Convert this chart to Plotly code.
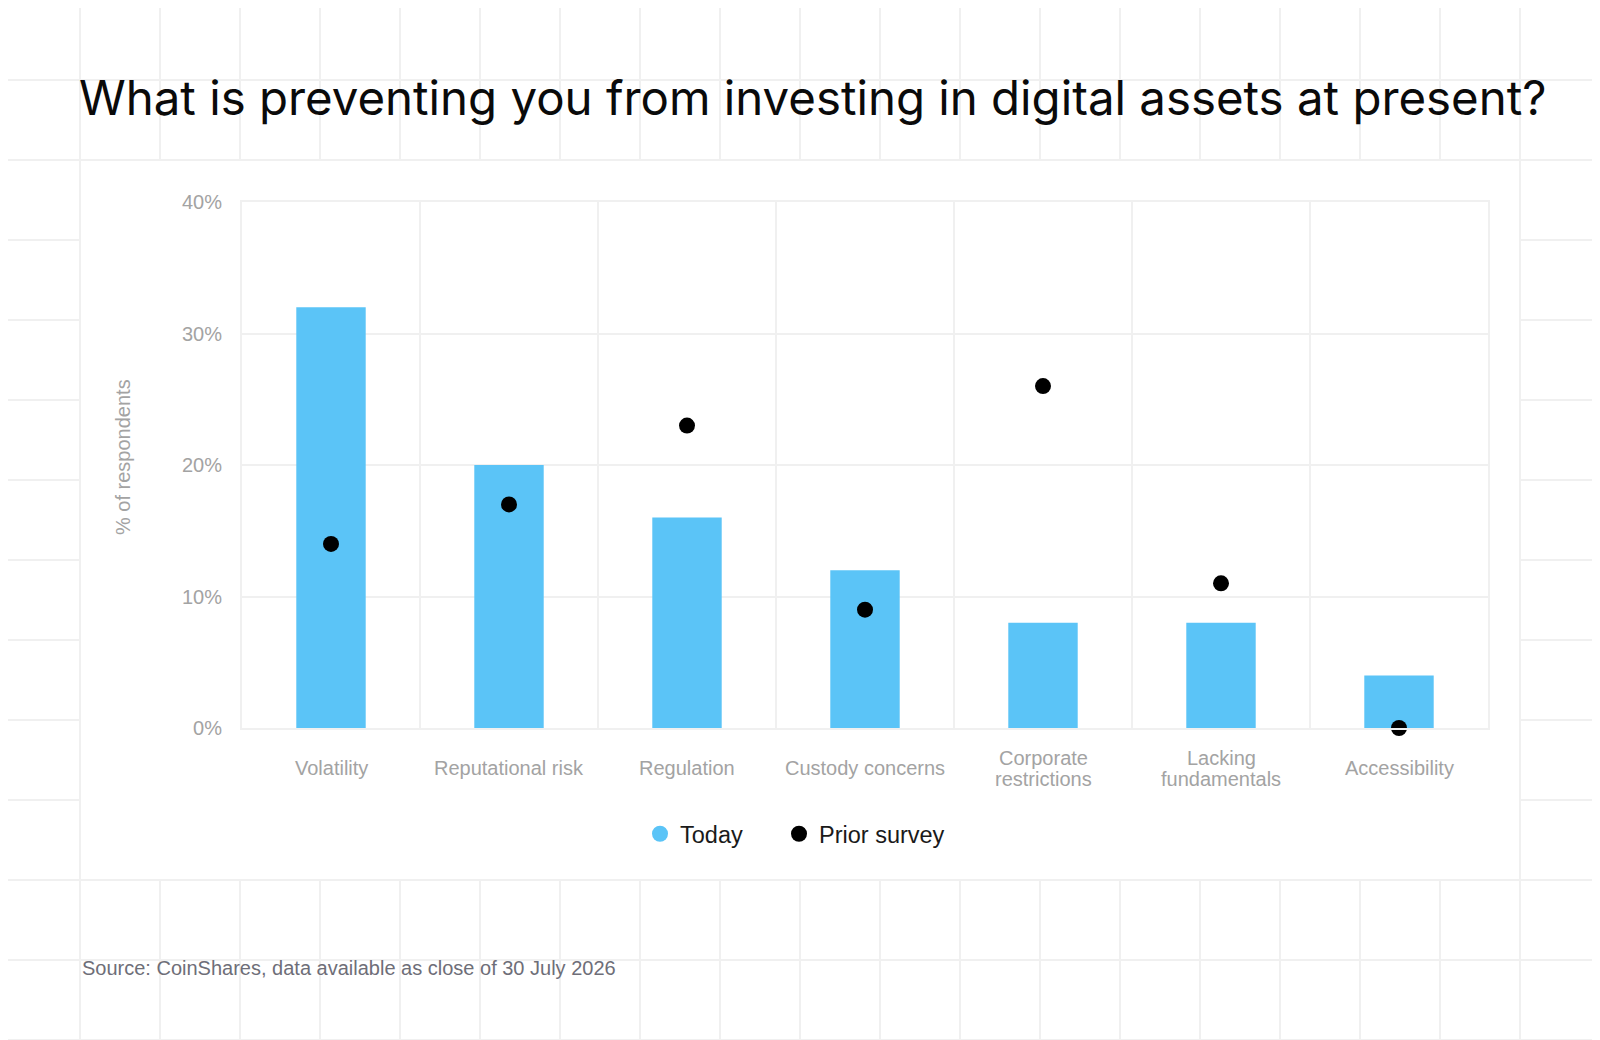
import plotly.graph_objects as go

# данные
categories = ["Volatility", "Reputational risk", "Regulation", "Custody concerns",
              "Corporate<br>restrictions", "Lacking<br>fundamentals", "Accessibility"]
today = [32, 20, 16, 12, 8, 8, 4]
prior_survey = [14, 17, 23, 9, 26, 11, 0]
y_ticks = [0, 10, 20, 30, 40]
y_tick_labels = ["0%", "10%", "20%", "30%", "40%"]

W, H = 1600, 1040
OFF = 8  # отступ body в html
L, R, T, B = 234, 120, 194, 320
PW, PH = W - L - R, H - T - B
GRID = "#f0f0f0"
GRAY_TXT = "#a3a3a3"
BLUE = "#5bc4f7"


# экранные пиксели -> paper
def fx(sx):
    return (sx - OFF - L) / PW


def fy(sy):
    return (H - B - (sy - OFF)) / PH


fig = go.Figure()
fig.add_trace(go.Bar(x=categories, y=today, name="Today", width=0.39, showlegend=False,
                     marker=dict(color=BLUE, line_width=0)))
fig.add_trace(go.Scatter(x=categories, y=prior_survey, name="Prior survey", mode="markers",
                         marker=dict(color="#000000", size=16), cliponaxis=False,
                         legend="legend2"))
# маркер легенды для столбцов (кружок)
fig.add_trace(go.Scatter(x=[None], y=[None], name="Today", mode="markers",
                         marker=dict(color=BLUE, size=16), legend="legend"))

# фоновая сетка страницы
shapes = []
for gx in range(0, W + 1, 80):
    shapes.append(dict(type="line", xref="paper", yref="paper", layer="below",
                       x0=fx(gx), x1=fx(gx), y0=fy(-20), y1=fy(H + 20),
                       line=dict(color=GRID, width=2)))
for gy in range(0, H + 1, 80):
    shapes.append(dict(type="line", xref="paper", yref="paper", layer="below",
                       x0=fx(-20), x1=fx(W + 20), y0=fy(gy), y1=fy(gy),
                       line=dict(color=GRID, width=2)))
# белая панель
shapes.append(dict(type="rect", xref="paper", yref="paper", layer="below",
                   x0=fx(80), x1=fx(1520), y0=fy(160), y1=fy(880),
                   fillcolor="white", line=dict(color=GRID, width=2)))

legend_common = dict(orientation="h", xref="paper", yref="paper", xanchor="left",
                     yanchor="middle", font=dict(size=23.5, color="#1a1a1a"),
                     bgcolor="rgba(0,0,0,0)", itemsizing="trace")

fig.update_layout(
    width=W, height=H,
    margin=dict(l=L, r=R, t=T, b=B),
    paper_bgcolor="white", plot_bgcolor="white",
    font=dict(family="Liberation Sans, Arial, sans-serif", color=GRAY_TXT, size=20),
    title=dict(text="What is preventing you from investing in digital assets at present?",
               xref="container", yref="container", x=(79 - OFF) / W, xanchor="left",
               y=1 - (98 - OFF) / H, yanchor="middle",
               font=dict(family="Inter, sans-serif", size=47.4, color="#0a0a0a")),
    showlegend=True,
    legend=dict(x=fx(640), y=fy(834), **legend_common),
    legend2=dict(x=fx(779), y=fy(834), **legend_common),
    shapes=shapes,
)

fig.update_xaxes(type="category", tickson="boundaries", showgrid=True, gridcolor=GRID, gridwidth=2,
                 showline=True, linecolor=GRID, linewidth=2, mirror=True, ticks="",
                 showticklabels=False)
fig.update_yaxes(range=[0, 40], tickvals=y_ticks, ticktext=y_tick_labels, showgrid=True,
                 gridcolor=GRID, gridwidth=2, zeroline=False,
                 showline=True, linecolor=GRID, linewidth=2, mirror=True, ticks="",
                 tickfont=dict(size=20, color=GRAY_TXT), ticklabelstandoff=14)

# подписи категорий (по центру по вертикали)
for cat in categories:
    lines = cat.split("<br>")
    n = len(lines)
    for i, line in enumerate(lines):
        fig.add_annotation(text=line, x=cat, xref="x", yref="paper", y=fy(768),
                           yanchor="middle", xanchor="center", showarrow=False,
                           yshift=-(i - (n - 1) / 2) * 21,
                           font=dict(size=20, color=GRAY_TXT))

fig.add_annotation(text="% of respondents", xref="paper", yref="paper",
                   x=fx(123), y=fy(457), textangle=-90, showarrow=False,
                   xanchor="center", yanchor="middle",
                   font=dict(size=20, color=GRAY_TXT))
fig.add_annotation(text="Source: CoinShares, data available as close of 30 July 2026",
                   xref="paper", yref="paper", x=fx(80), y=fy(968),
                   xanchor="left", yanchor="middle", showarrow=False,
                   font=dict(size=20, color="#6e6e78"))

fig.write_html("out.html")
